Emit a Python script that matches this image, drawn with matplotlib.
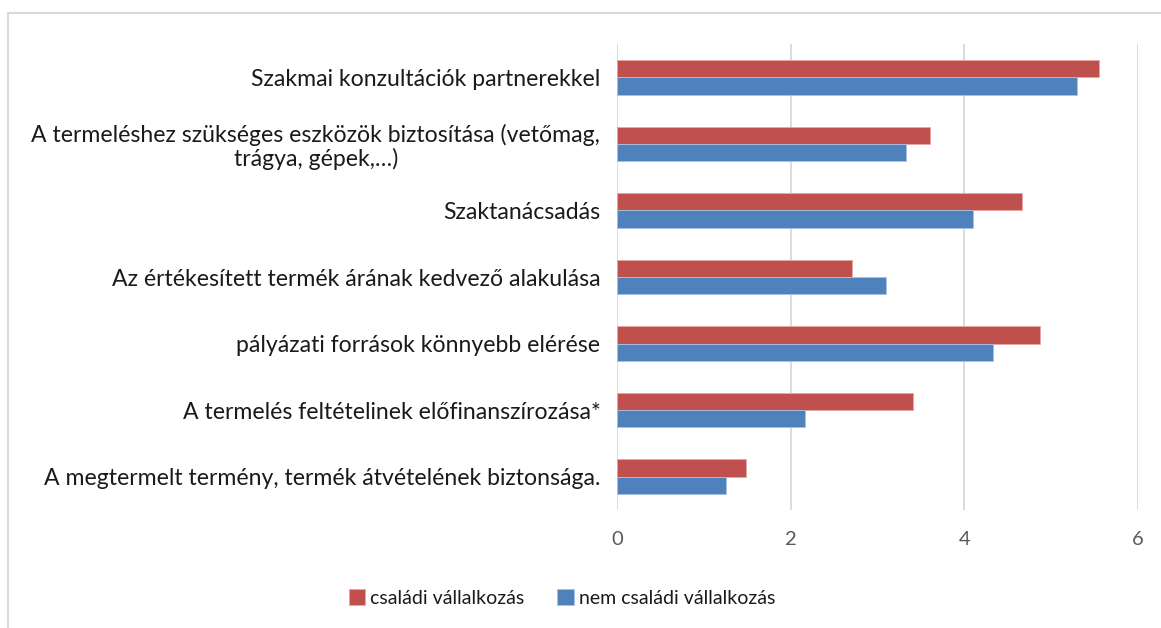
import numpy as np
import matplotlib.pyplot as plt
from matplotlib.patches import Rectangle

plt.rcParams['font.family'] = ['Lato', 'DejaVu Sans']

categories = [
    'Szakmai konzultációk partnerekkel',
    'A termeléshez szükséges eszközök biztosítása (vetőmag,\ntrágya, gépek,…)',
    'Szaktanácsadás',
    'Az értékesített termék árának kedvező alakulása',
    'pályázati források könnyebb elérése',
    'A termelés feltételinek előfinanszírozása*',
    'A megtermelt termény, termék átvételének biztonsága.',
]
csaladi = [5.55, 3.61, 4.66, 2.71, 4.87, 3.41, 1.49]
nem_csaladi = [5.30, 3.33, 4.10, 3.10, 4.33, 2.17, 1.26]
series_names = ['családi vállalkozás', 'nem családi vállalkozás']
xticks = [0, 2, 4, 6]

red = '#C0504D'
blue = '#4F81BD'

fig = plt.figure(figsize=(11.61, 6.28), dpi=100)
W, H = 1161, 628
ax = fig.add_axes([617 / W, 1 - 510 / H, (1138 - 617) / W, (510 - 44) / H])

# outer chart frame
fig.patches.append(Rectangle((8 / W, -0.01), 1.1, 1 - 13 / H + 0.01,
                             transform=fig.transFigure, fill=False,
                             edgecolor='#d9d9d9', linewidth=1.5))

y = np.arange(len(categories))
h = 0.26
ax.barh(y - h / 2, csaladi, height=h, color=red, edgecolor='#e6a8a6',
        linewidth=0.6, label=series_names[0])
ax.barh(y + h / 2, nem_csaladi, height=h, color=blue, edgecolor='#a9c2e3',
        linewidth=0.6, label=series_names[1])

ax.set_ylim(len(categories) - 0.5, -0.5)
ax.set_xlim(0, 6)
ax.set_xticks(xticks)
ax.set_xticklabels([str(t) for t in xticks])
ax.set_yticks(y)
ax.set_yticklabels(categories, fontsize=16.6, color='#1a1a1a',
                   multialignment='center', linespacing=1.1)
ax.tick_params(axis='y', length=0, pad=12)
ax.tick_params(axis='x', length=0, pad=15, labelsize=14.5,
               labelcolor='#595959')
ax.xaxis.grid(True, color='#d9d9d9', linewidth=1.3)
ax.set_axisbelow(True)
for s in ax.spines.values():
    s.set_visible(False)

ax.legend(loc='center', bbox_to_anchor=(562 / W, 1 - 598 / H),
          bbox_transform=fig.transFigure, ncol=2, frameon=False,
          fontsize=14, handlelength=0.85, handleheight=0.85,
          handletextpad=0.25, columnspacing=1.7, labelcolor='#1a1a1a')

fig.savefig('out.png', dpi=100)
